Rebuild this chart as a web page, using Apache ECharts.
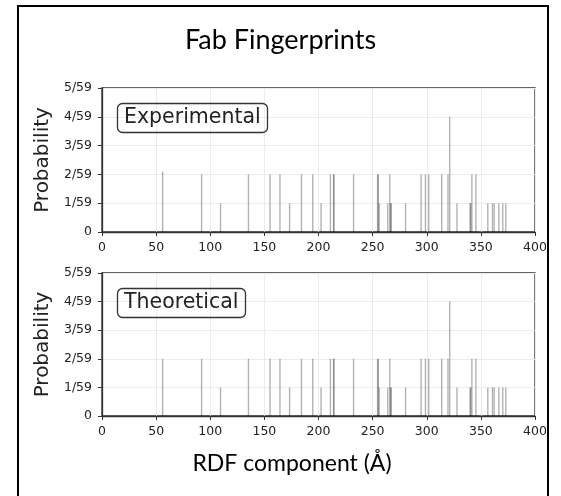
<!DOCTYPE html>
<html>
<head>
<meta charset="utf-8">
<title>Fab Fingerprints</title>
<script src="https://cdn.jsdelivr.net/npm/echarts@6/dist/echarts.min.js"></script>
<style>
  html, body { margin: 0; padding: 0; background: #fff; }
  #chart { width: 561px; height: 496px; }
</style>
</head>
<body>
<div id="chart"></div>
<script>
// RDF component positions (Å) and counts in units of 1/59
const expX = [56, 92, 109.5, 135.3, 155.2, 164.4, 173.3, 184.3, 194.7, 202.4, 211, 213.9, 214.4, 232.4,
  254.6, 255.2, 256.1, 264, 265.8, 266.6, 267.2, 280.4, 294.8, 298.8, 301.8, 313.8, 319.6, 321.2,
  327.9, 340, 340.6, 341.7, 345.4, 356.4, 360.7, 362.3, 366.6, 370.2, 373]
const expY = [2.1, 2, 1, 2, 2, 2, 1, 2, 2, 1, 2, 2, 2, 2,
  2, 2, 1, 1, 2, 1, 1, 1, 2, 2, 2, 2, 2, 4,
  1, 1, 1, 2, 2, 1, 1, 1, 1, 1, 1]
const theoX = [56, 92, 109.5, 135.3, 155.2, 164.4, 173.3, 184.3, 194.7, 202.4, 211, 213.9, 214.4, 232.4,
  254.6, 255.2, 256.1, 264, 265.8, 266.6, 267.2, 280.4, 294.8, 298.8, 301.8, 313.8, 319.6, 321.2,
  327.9, 340, 340.6, 341.7, 345.4, 356.4, 360.7, 362.3, 366.6, 370.2, 373]
const theoY = [2, 2, 1, 2, 2, 2, 1, 2, 2, 1, 2, 2, 2, 2,
  2, 2, 1, 1, 2, 1, 1, 1, 2, 2, 2, 2, 2, 4,
  1, 1, 1, 2, 2, 1, 1, 1, 1, 1, 1]
const xTicks = [0, 50, 100, 150, 200, 250, 300, 350, 400]
const yTickLabels = ['0', '1/59', '2/59', '3/59', '4/59', '5/59']

const chart = echarts.init(document.getElementById('chart'))
const mpl = 'DejaVu Sans'

// same axis setup for both panels
function makeX (idx) {
  return {
    type: 'value', gridIndex: idx, min: xTicks[0], max: xTicks[xTicks.length - 1], interval: 50,
    axisLine: { onZero: false, lineStyle: { color: '#333', width: 1.3 } },
    axisTick: { show: true, length: 4, lineStyle: { color: '#333' } },
    axisLabel: { fontFamily: mpl, fontSize: 12.5, color: '#222', margin: 9 },
    splitLine: { show: true, lineStyle: { color: '#ececec', width: 1 } }
  }
}
function makeY (idx) {
  return {
    type: 'value', gridIndex: idx, min: 0, max: 5, interval: 1,
    name: 'Probability', nameLocation: 'middle', nameRotate: 90, nameGap: 45,
    nameTextStyle: { fontFamily: mpl, fontSize: 20, color: '#222' },
    axisLine: { show: true, lineStyle: { color: '#333', width: 1.3 } },
    axisTick: { show: true, length: 4, lineStyle: { color: '#333' } },
    axisLabel: { fontFamily: mpl, fontSize: 12.5, color: '#222', margin: 10,
      formatter: (v) => yTickLabels[v] },
    splitLine: { show: true, lineStyle: { color: '#ececec', width: 1 } }
  }
}
function pairs (xs, ys) {
  return xs.map((x, i) => [x, ys[i]])
}
function boxLabel (text, left, top) {
  return {
    text: text, left: left, top: top,
    borderColor: '#333', borderWidth: 1.3, borderRadius: 5,
    padding: [4, 7, 4, 7],
    textStyle: { fontFamily: mpl, fontSize: 20.5, lineHeight: 22, fontWeight: 'normal', color: '#222' }
  }
}

const option = {
  animation: false,
  title: [
    { text: 'Fab Fingerprints', left: 'center', top: 22,
      textStyle: { fontFamily: 'Lato', fontSize: 27, fontWeight: 'normal', color: '#000' } },
    boxLabel('Experimental', 117, 103),
    boxLabel('Theoretical', 117, 288)
  ],
  grid: [
    { left: 102, top: 88, width: 433, height: 144, show: true, borderColor: '#333', borderWidth: 1.3 },
    { left: 102, top: 273, width: 433, height: 143, show: true, borderColor: '#333', borderWidth: 1.3 }
  ],
  xAxis: [makeX(0), makeX(1)],
  yAxis: [makeY(0), makeY(1)],
  series: [
    { type: 'bar', xAxisIndex: 0, yAxisIndex: 0, barWidth: 1.4,
      itemStyle: { color: 'rgba(0,0,0,0.3)' }, data: pairs(expX, expY) },
    { type: 'bar', xAxisIndex: 1, yAxisIndex: 1, barWidth: 1.4,
      itemStyle: { color: 'rgba(0,0,0,0.3)' }, data: pairs(theoX, theoY) }
  ],
  graphic: [
    // outer frame of the slide
    { type: 'rect', shape: { x: 18, y: 6, width: 530, height: 500 },
      style: { fill: 'none', stroke: '#000', lineWidth: 2 }, silent: true },
    { type: 'text', x: 292, y: 464,
      style: { text: 'RDF component (Å)', font: '23px Lato', fill: '#000',
        textAlign: 'center', textVerticalAlign: 'middle' } }
  ]
}
chart.setOption(option)
</script>
</body>
</html>
